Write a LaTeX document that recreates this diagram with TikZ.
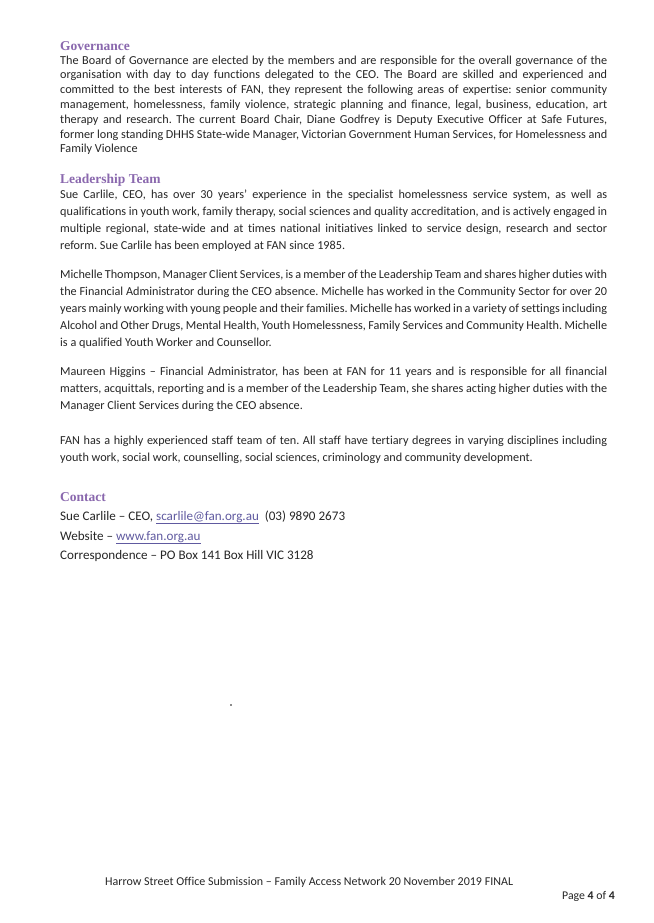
\documentclass[tikz,border=0pt]{standalone}
\usepackage{fontspec}
\setmainfont{Carlito}[Ligatures={TeX,NoCommon}]
\newfontfamily\headfont{Liberation Serif}
\definecolor{headpurple}{RGB}{138,104,174}
\definecolor{linkblue}{RGB}{96,90,160}
\definecolor{bodygrey}{RGB}{38,38,38}
\newcommand{\weblink}[1]{\textcolor{linkblue}{\underline{#1}}}
\frenchspacing
\tikzset{
  heading/.style={anchor=base west,inner sep=0pt,text=headpurple,font=\headfont\bfseries\fontsize{13.5}{15}\selectfont},
  para/.style={anchor=north west,inner sep=0pt,text width=547pt,align=justify,text=bodygrey,font=\fontsize{12.2}{14.8}\selectfont},
  widepara/.style={para,font=\fontsize{12.2}{17}\selectfont},
  contact/.style={anchor=base west,inner sep=0pt,text=bodygrey,font=\fontsize{13.1}{15}\selectfont},
  foot/.style={anchor=base west,inner sep=0pt,text=bodygrey,font=\fontsize{12}{13}\selectfont},
}
\begin{document}
\begin{tikzpicture}[x=1pt,y=1pt]
\useasboundingbox[fill=white] (0,0) rectangle (653,-923);

\node[heading] (govhead) at (60,-50.5) {Governance};
\node[para] (govtext) at (60,-55.5) {The Board of Governance are elected by the members and are responsible for the overall governance of the\linebreak organisation with day to day functions delegated to the CEO. The Board are skilled and experienced and\linebreak committed to the best interests of FAN, they represent the following areas of expertise: senior community\linebreak management, homelessness, family violence, strategic planning and finance, legal, business, education, art\linebreak therapy and research. The current Board Chair, Diane Godfrey is Deputy Executive Officer at Safe Futures,\linebreak former long standing DHHS State-wide Manager, Victorian Government Human Services, for Homelessness and\linebreak Family Violence\par};

\node[heading] (leadhead) at (60,-183.5) {Leadership Team};
\node[widepara] (leadtext) at (60,-189.7) {Sue Carlile, CEO, has over 30 years' experience in the specialist homelessness service system, as well as\linebreak qualifications in youth work, family therapy, social sciences and quality accreditation, and is actively engaged in\linebreak multiple regional, state-wide and at times national initiatives linked to service design, research and sector\linebreak reform. Sue Carlile has been employed at FAN since 1985.\par};
\node[widepara] (michelle) at (60,-270) {Michelle Thompson, Manager Client Services, is a member of the Leadership Team and shares higher duties with\linebreak the Financial Administrator during the CEO absence. Michelle has worked in the Community Sector for over 20\linebreak years mainly working with young people and their families. Michelle has worked in a variety of settings including\linebreak Alcohol and Other Drugs, Mental Health, Youth Homelessness, Family Services and Community Health. Michelle\linebreak is a qualified Youth Worker and Counsellor.\par};
\node[widepara] (maureen) at (60,-367) {Maureen Higgins -- Financial Administrator, has been at FAN for 11 years and is responsible for all financial\linebreak matters, acquittals, reporting and is a member of the Leadership Team, she shares acting higher duties with the\linebreak Manager Client Services during the CEO absence.\par};
\node[widepara] (staff) at (60,-436) {FAN has a highly experienced staff team of ten. All staff have tertiary degrees in varying disciplines including\linebreak youth work, social work, counselling, social sciences, criminology and community development.\par};

\node[heading] (conthead) at (60,-501) {Contact};
\node[contact] (cont1) at (60,-520) {Sue Carlile -- CEO, \weblink{scarlile@fan.org.au}\ \ (03) 9890 2673};
\node[contact] (cont2) at (60,-540) {Website -- \weblink{www.fan.org.au}};
\node[contact] (cont3) at (60,-559) {Correspondence -- PO Box 141 Box Hill VIC 3128};

\fill[black!45] (230.2,-704.2) rectangle (232,-706);

\node[foot] (footline) at (105,-885) {Harrow Street Office Submission -- Family Access Network 20 November 2019 FINAL};
\node[foot,font=\fontsize{11.8}{13}\selectfont] (pageno) at (562,-899) {Page \textbf{4} of \textbf{4}};
\end{tikzpicture}
\end{document}
